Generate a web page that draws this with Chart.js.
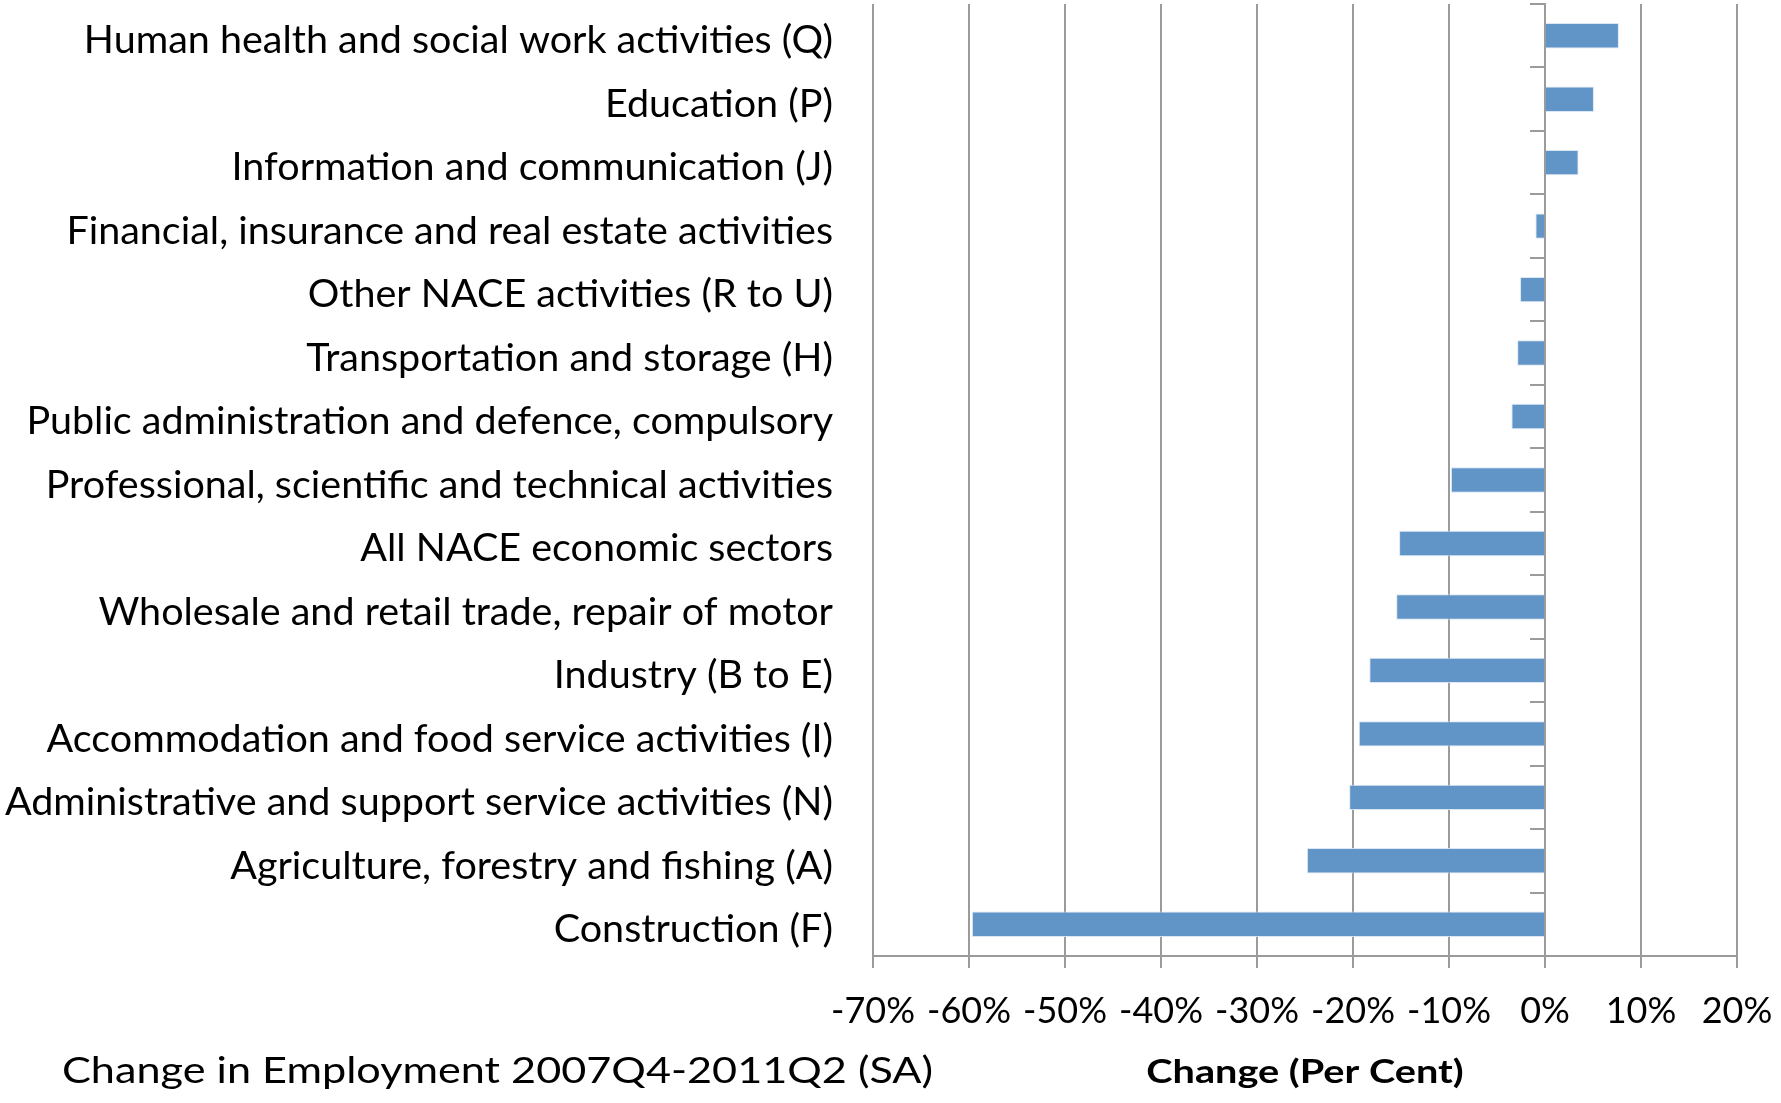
<!DOCTYPE html>
<html>
<head>
<meta charset="utf-8">
<title>Change in Employment by Sector</title>
<script src="https://cdn.jsdelivr.net/npm/chart.js@4.4.1/dist/chart.umd.min.js"></script>
<style>
    html, body { margin: 0; padding: 0; background: #ffffff; }
    #chartWrap { position: relative; width: 1781px; height: 1103px; }
</style>
</head>
<body>
<div id="chartWrap"><canvas id="employmentChart"></canvas></div>
<script>
// NACE sectors, top to bottom
const sectors = [
    'Human health and social work activities (Q)',
    'Education (P)',
    'Information and communication (J)',
    'Financial, insurance and real estate activities',
    'Other NACE activities (R to U)',
    'Transportation and storage (H)',
    'Public administration and defence, compulsory',
    'Professional, scientific and technical activities',
    'All NACE economic sectors',
    'Wholesale and retail trade, repair of motor',
    'Industry (B to E)',
    'Accommodation and food service activities (I)',
    'Administrative and support service activities (N)',
    'Agriculture, forestry and fishing (A)',
    'Construction (F)'
];

// % change in employment 2007Q4-2011Q2
const changePct = [7.7, 5.1, 3.5, -1.0, -2.6, -2.9, -3.5, -9.8, -15.2, -15.5, -18.3, -19.4, -20.4, -24.8, -59.7];

// x axis range and step (per cent)
const axisMin = -70;
const axisMax = 20;
const axisStep = 10;

const chartTitle = 'Change in Employment 2007Q4-2011Q2 (SA)';
const axisTitle = 'Change (Per Cent)';

const GRID_GREY = '#9b9b9b';
const BAR_BLUE = '#6195c8';
const FONT = 'Lato';

// bottom line of text: chart title on the left, axis title centred under the plot
// (both drawn a little wider than the font's natural width)
const captionPlugin = {
    id: 'caption',
    afterDraw: function (chart) {
        const ctx = chart.ctx;
        const xScale = chart.scales.x;

        ctx.save();
        ctx.fillStyle = '#000000';
        ctx.textBaseline = 'alphabetic';

        ctx.font = '36px ' + FONT;
        ctx.textAlign = 'left';
        ctx.setTransform(1.2, 0, 0, 1, 62, 1083);
        ctx.fillText(chartTitle, 0, 0);

        ctx.font = 'bold 32px ' + FONT;
        ctx.textAlign = 'center';
        ctx.setTransform(1.24, 0, 0, 1, (xScale.left + xScale.right) / 2, 1083);
        ctx.fillText(axisTitle, 0, 0);

        ctx.restore();
    }
};

const ctx = document.getElementById('employmentChart').getContext('2d');

new Chart(ctx, {
    type: 'bar',
    data: {
        labels: sectors,
        datasets: [{
            label: chartTitle,
            data: changePct,
            backgroundColor: BAR_BLUE,
            borderColor: 'rgba(215, 228, 243, 0.9)',
            borderWidth: 1,
            barPercentage: 0.4,
            categoryPercentage: 1.0
        }]
    },
    options: {
        indexAxis: 'y',
        responsive: true,
        maintainAspectRatio: false,
        animation: false,
        layout: { padding: { top: 4, right: 0, bottom: 0, left: 0 } },
        plugins: {
            legend: { display: false },
            tooltip: { enabled: false }
        },
        scales: {
            x: {
                type: 'linear',
                min: axisMin,
                max: axisMax,
                ticks: {
                    stepSize: axisStep,
                    color: '#000000',
                    font: { family: FONT, size: 36 },
                    padding: 22,
                    callback: function (v) { return v + '%'; }
                },
                grid: { color: GRID_GREY, lineWidth: 2, tickLength: 12 },
                border: { color: GRID_GREY, width: 2 },
                afterFit: function (scale) {
                    scale.height = 147;
                    // room on the right for half of the "20%" label only
                    scale.paddingLeft = 0;
                    scale.paddingRight = 44;
                }
            },
            y: {
                type: 'category',
                position: 'left',
                offset: true,
                ticks: {
                    color: '#000000',
                    font: { family: FONT, size: 39.5 },
                    padding: 32,
                    labelOffset: 5,
                    autoSkip: false
                },
                grid: { display: false },
                border: { display: false },
                afterFit: function (scale) {
                    scale.width = 873;
                    // labels sit inside the category bands, no extra room needed above/below
                    scale.paddingTop = 0;
                    scale.paddingBottom = 0;
                }
            },
            // zero line with category tick marks
            yZero: {
                type: 'category',
                position: { x: 0 },
                offset: true,
                ticks: { display: false },
                grid: {
                    drawOnChartArea: false,
                    color: GRID_GREY,
                    lineWidth: 2,
                    tickLength: 14,
                    offset: true
                },
                border: { color: GRID_GREY, width: 2 }
            }
        }
    },
    plugins: [captionPlugin]
});
</script>
</body>
</html>
